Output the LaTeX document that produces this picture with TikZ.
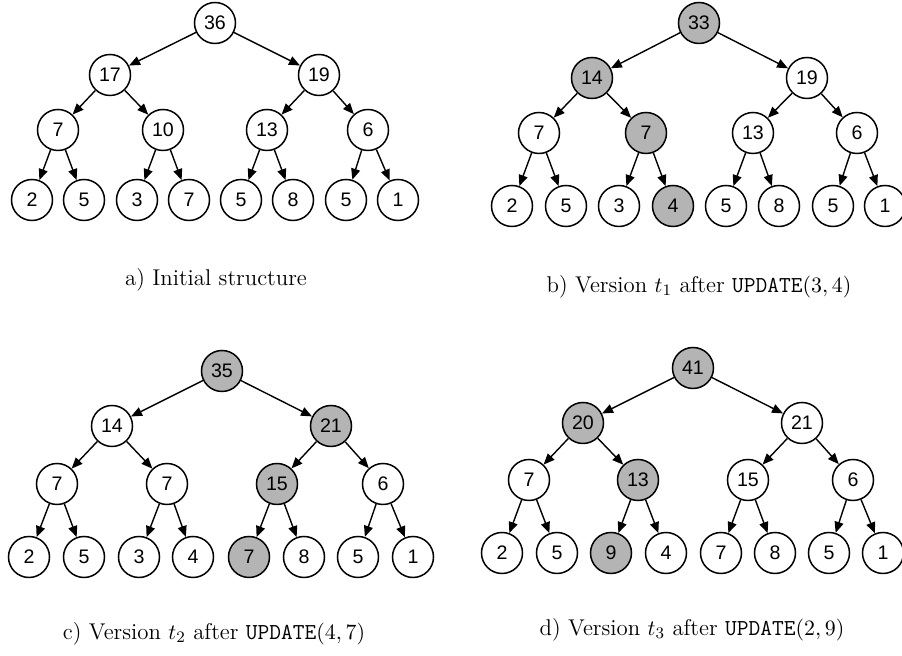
\documentclass[tikz,border=0pt]{standalone}
\usepackage{fontspec}
\newfontfamily\arialfam{Liberation Sans}
\usetikzlibrary{arrows.meta}
\definecolor{hlgray}{RGB}{180,180,180}
\begin{document}
\begin{tikzpicture}[x=0.5pt,y=-0.5pt,
  nd/.style={circle, draw, line width=0.75pt, minimum size=20.5pt, inner sep=0pt, font=\arialfam\fontsize{9.8}{11}\selectfont},
  hl/.style={nd, fill=hlgray},
  edge/.style={-{Triangle[length=5.5pt,width=4.5pt]}, line width=0.7pt},
  captext/.style={font=\fontsize{11.4}{13}\selectfont, inner sep=0pt}]
\useasboundingbox (0,0) rectangle (902,656);
% tree a
\node[nd] (a1) at (215,23) {36};
\node[nd] (a2) at (110,75) {17};
\node[nd] (a3) at (319,75) {19};
\node[nd] (a4) at (58,130) {7};
\node[nd] (a5) at (163,130) {10};
\node[nd] (a6) at (267,130) {13};
\node[nd] (a7) at (368,130) {6};
\node[nd] (a8) at (32,200) {2};
\node[nd] (a9) at (84,200) {5};
\node[nd] (a10) at (137,200) {3};
\node[nd] (a11) at (189,200) {7};
\node[nd] (a12) at (241,200) {5};
\node[nd] (a13) at (293,200) {8};
\node[nd] (a14) at (346,200) {5};
\node[nd] (a15) at (398,200) {1};
% tree b
\node[hl] (b1) at (699,23) {33};
\node[hl] (b2) at (592,78) {14};
\node[nd] (b3) at (807,78) {19};
\node[nd] (b4) at (539,133) {7};
\node[hl] (b5) at (646,133) {7};
\node[nd] (b6) at (753,133) {13};
\node[nd] (b7) at (857,133) {6};
\node[nd] (b8) at (512,206) {2};
\node[nd] (b9) at (566,206) {5};
\node[nd] (b10) at (619,206) {3};
\node[hl] (b11) at (673,206) {4};
\node[nd] (b12) at (726,206) {5};
\node[nd] (b13) at (779,206) {8};
\node[nd] (b14) at (833,206) {5};
\node[nd] (b15) at (885,206) {1};
% tree c
\node[hl] (c1) at (222,371) {35};
\node[nd] (c2) at (112,426) {14};
\node[hl] (c3) at (331,426) {21};
\node[nd] (c4) at (57,484) {7};
\node[nd] (c5) at (167,484) {7};
\node[hl] (c6) at (277,484) {15};
\node[nd] (c7) at (383,484) {6};
\node[nd] (c8) at (29,557) {2};
\node[nd] (c9) at (84,557) {5};
\node[nd] (c10) at (139,557) {3};
\node[nd] (c11) at (193,557) {4};
\node[hl] (c12) at (249,557) {7};
\node[nd] (c13) at (304,557) {8};
\node[nd] (c14) at (358,557) {5};
\node[nd] (c15) at (413,557) {1};
% tree d
\node[hl] (d1) at (693,368) {41};
\node[hl] (d2) at (583,423) {20};
\node[nd] (d3) at (802,423) {21};
\node[nd] (d4) at (529,480) {7};
\node[hl] (d5) at (638,480) {13};
\node[nd] (d6) at (748,480) {15};
\node[nd] (d7) at (853,480) {6};
\node[nd] (d8) at (502,553) {2};
\node[nd] (d9) at (557,553) {5};
\node[hl] (d10) at (611,553) {9};
\node[nd] (d11) at (666,553) {4};
\node[nd] (d12) at (721,553) {7};
\node[nd] (d13) at (775,553) {8};
\node[nd] (d14) at (829,553) {5};
\node[nd] (d15) at (883,553) {1};
% edges
\foreach \p in {a,b,c,d}{
  \foreach \i in {1,...,7}{
    \pgfmathtruncatemacro{\l}{2*\i}
    \pgfmathtruncatemacro{\r}{2*\i+1}
    \draw[edge] (\p\i) -- (\p\l);
    \draw[edge] (\p\i) -- (\p\r);
  }
}
% captions
\node[captext] (capa) at (216,280) {a) Initial structure};
\node[captext] (capb) at (699,287) {b) Version $t_1$ after \texttt{UPDATE}$(3,4)$};
\node[captext] (capc) at (214,634) {c) Version $t_2$ after \texttt{UPDATE}$(4,7)$};
\node[captext] (capd) at (692,630) {d) Version $t_3$ after \texttt{UPDATE}$(2,9)$};
\end{tikzpicture}
\end{document}
